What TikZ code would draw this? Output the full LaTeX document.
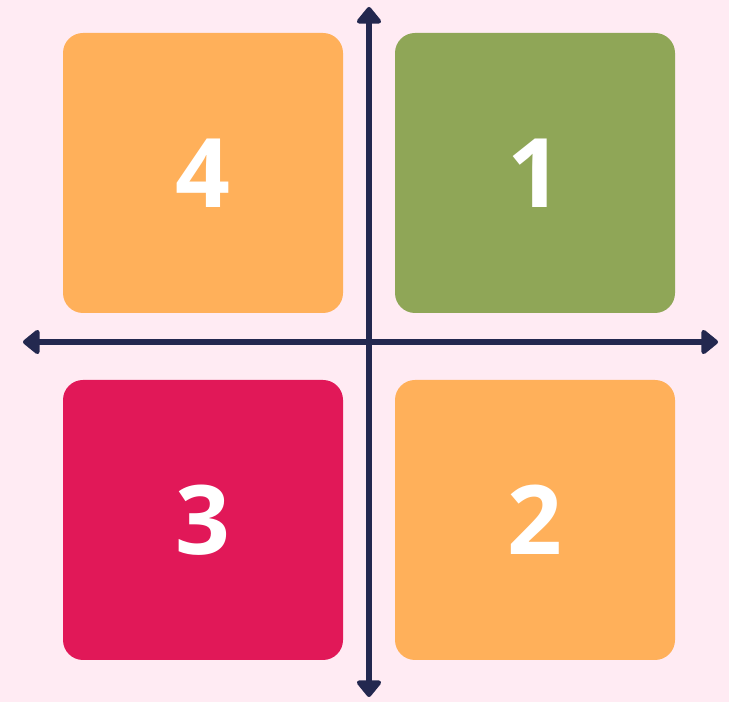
\documentclass[tikz,border=0pt]{standalone}
\usepackage{fontspec}
\setmainfont{Open Sans}
\usetikzlibrary{arrows.meta}
\definecolor{bg}{HTML}{FFEBF3}
\definecolor{qorange}{HTML}{FFB05A}
\definecolor{qgreen}{HTML}{8FA657}
\definecolor{qred}{HTML}{E11858}
\definecolor{qnavy}{HTML}{23284F}
\tikzset{
  quad/.style={rounded corners=20pt, minimum width=280pt, minimum height=280pt, inner sep=0pt, text=white, font=\fontsize{96}{96}\selectfont\bfseries},
  axis/.style={qnavy, line width=6pt, {Triangle[round,length=18pt,width=28pt]}-{Triangle[round,length=18pt,width=28pt]}}
}
\begin{document}
\begin{tikzpicture}[x=1pt,y=1pt]
\fill[bg] (0,0) rectangle (729,702);
\useasboundingbox (0,0) rectangle (729,702);
\node[quad, fill=qorange] (q4) at (203,529) {4};
\node[quad, fill=qgreen] (q1) at (535,529) {1};
\node[quad, fill=qred] (q3) at (203,182) {3};
\node[quad, fill=qorange] (q2) at (535,182) {2};
\coordinate (top) at (369,695);
\coordinate (bot) at (369,5);
\coordinate (lft) at (23,360);
\coordinate (rgt) at (718,360);
\draw[axis] (bot) -- (top);
\draw[axis] (lft) -- (rgt);
\end{tikzpicture}
\end{document}
